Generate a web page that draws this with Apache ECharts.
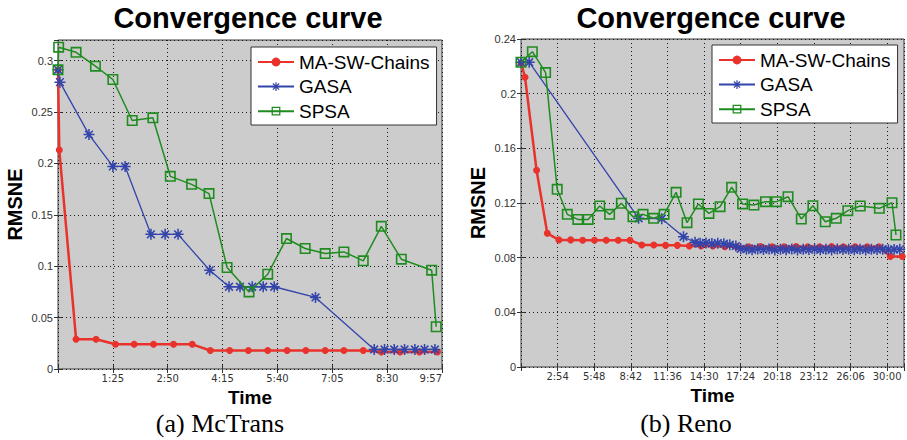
<!DOCTYPE html>
<html>
<head>
<meta charset="utf-8">
<script src="https://cdn.jsdelivr.net/npm/echarts@6/dist/echarts.min.js"></script>
<style>
html,body{margin:0;padding:0;background:#ffffff;}
#chart{width:907px;height:440px;}
</style>
</head>
<body>
<div id="chart"></div>
<script>
// ---------------- DATA (time in seconds, RMSNE) ----------------
// (a) McTrans
const mcXLabels = ['1:25', '2:50', '4:15', '5:40', '7:05', '8:30', '9:57'];
const mcMaTime  = [0, 2, 28, 59, 89, 118, 148, 179, 208, 236, 266, 295, 325, 355, 384, 414, 443, 473, 501, 530, 560, 588];
const mcMaRmsne = [0.291, 0.213, 0.029, 0.029, 0.024, 0.024, 0.024, 0.024, 0.024, 0.018, 0.018, 0.018, 0.018, 0.018, 0.018, 0.018, 0.018, 0.018, 0.0165, 0.0165, 0.0165, 0.0165];
const mcGaTime  = [0, 3, 48, 85, 104, 144, 166, 186, 235, 265, 282, 301, 318, 335, 399, 490, 506, 521, 537, 553, 568, 584];
const mcGaRmsne = [0.291, 0.279, 0.228, 0.197, 0.197, 0.131, 0.131, 0.131, 0.096, 0.080, 0.080, 0.080, 0.080, 0.080, 0.0696, 0.019, 0.019, 0.019, 0.019, 0.019, 0.019, 0.019];
const mcSpTime  = [0, 1, 28, 58, 85, 115, 147, 174, 207, 234, 262, 296, 325, 354, 383, 414, 443, 473, 501, 532, 579, 586];
const mcSpRmsne = [0.291, 0.313, 0.308, 0.2945, 0.2816, 0.2417, 0.2443, 0.1874, 0.1796, 0.1706, 0.0987, 0.075, 0.0922, 0.1269, 0.1172, 0.1123, 0.1139, 0.1052, 0.1388, 0.1068, 0.0961, 0.0411];

// (b) Reno
const renoXLabels = ['2:54', '5:48', '8:42', '11:36', '14:30', '17:24', '20:18', '23:12', '26:06', '30:00'];
const renoMaTime  = [0, 19, 74, 125, 180, 236, 293, 349, 405, 462, 518, 574, 631, 687, 743, 800, 856, 912, 969, 1025, 1081, 1138, 1194, 1250, 1307, 1363, 1419, 1476, 1532, 1588, 1645, 1701, 1755, 1812];
const renoMaRmsne = [0.2225, 0.212, 0.144, 0.0978, 0.093, 0.093, 0.0928, 0.0928, 0.0928, 0.0928, 0.0928, 0.0893, 0.0893, 0.089, 0.089, 0.0885, 0.0885, 0.0885, 0.088, 0.088, 0.088, 0.0882, 0.088, 0.088, 0.0882, 0.088, 0.088, 0.0882, 0.088, 0.088, 0.088, 0.088, 0.0808, 0.0808];
const renoGaTime  = [0, 39, 559, 669, 772, 827, 851, 879, 907, 935, 964, 992, 1021, 1044, 1071, 1098, 1125, 1152, 1179, 1206, 1233, 1260, 1287, 1314, 1341, 1368, 1395, 1422, 1449, 1476, 1503, 1530, 1557, 1584, 1611, 1638, 1665, 1692, 1719, 1746, 1773, 1800];
const renoGaRmsne = [0.223, 0.223, 0.1088, 0.1085, 0.0953, 0.0912, 0.0905, 0.0908, 0.0903, 0.0906, 0.0902, 0.0895, 0.0885, 0.0865, 0.0862, 0.0858, 0.0864, 0.0859, 0.0863, 0.0857, 0.0862, 0.0858, 0.0864, 0.0857, 0.0861, 0.0859, 0.0863, 0.0858, 0.0862, 0.0857, 0.0863, 0.0859, 0.0861, 0.0858, 0.0862, 0.0857, 0.0861, 0.0859, 0.0862, 0.0858, 0.086, 0.0861];
const renoSpTime  = [0, 54, 117, 172, 220, 270, 319, 374, 421, 477, 532, 580, 630, 680, 737, 789, 843, 893, 946, 1001, 1053, 1107, 1162, 1214, 1269, 1332, 1387, 1446, 1498, 1553, 1612, 1703, 1763, 1782];
const renoSpRmsne = [0.223, 0.2307, 0.2154, 0.130, 0.1117, 0.108, 0.108, 0.1178, 0.1117, 0.1198, 0.110, 0.1117, 0.1088, 0.1117, 0.1278, 0.1056, 0.1193, 0.1124, 0.1173, 0.1315, 0.1193, 0.1185, 0.121, 0.121, 0.1246, 0.1083, 0.118, 0.1063, 0.1088, 0.1144, 0.1178, 0.1161, 0.1202, 0.0966];

const seriesNames = ['MA-SW-Chains', 'GASA', 'SPSA'];

// ---------------- STYLE ----------------
const RED = '#e8322b', BLUE = '#3344aa', GREEN = '#1e8c1e';
const SANS = 'Liberation Sans';
const STAR = 'path://M0,4.3H10V5.7H0Z M4.3,0H5.7V10H4.3Z M1.995,1.005L8.995,8.005L8.005,8.995L1.005,1.995Z M8.995,1.995L1.995,8.995L1.005,8.005L8.005,1.005Z';
const SQUARE = 'path://M0,0H10V10H0Z M1.45,1.45V8.55H8.55V1.45Z';

function zip(t, v) { return t.map((x, i) => [x, v[i]]); }

const mcStep = 85, mcMax = 595;
const renoStep = 174, renoMax = 1820;

function labelFrom(labels, step) {
  return function (val) {
    const k = Math.round(val / step);
    if (Math.abs(val - k * step) > 1e-6 || k < 1 || k > labels.length) return '';
    return labels[k - 1];
  };
}

const tickStyle = { show: true, inside: true, length: 4, lineStyle: { color: '#333', width: 1 } };
const splitStyle = { show: true, lineStyle: { color: '#1a1a1a', width: 1, type: [1, 3] } };
const nameStyle = { fontFamily: SANS, fontSize: 19, fontWeight: 'bold', color: '#000' };

function gridDef(l, t, w, h) {
  return { left: l, top: t, width: w, height: h, show: true, backgroundColor: '#cccccc',
    borderColor: '#3a3a3a', borderWidth: 1, containLabel: false, outerBoundsMode: 'none' };
}

function xMain(gi, max, step, labels, alignMax) {
  return { gridIndex: gi, type: 'value', min: 0, max: max, interval: step, position: 'bottom',
    name: 'Time', nameLocation: 'middle', nameGap: 19, nameTextStyle: nameStyle,
    axisLine: { show: false }, axisTick: tickStyle,
    axisLabel: { show: true, margin: 4, fontFamily: 'DejaVu Sans', fontSize: 10, color: '#333',
      formatter: labelFrom(labels, step), alignMaxLabel: alignMax, showMinLabel: true, showMaxLabel: true },
    splitLine: splitStyle };
}
function xTop(gi, max, step) {
  return { gridIndex: gi, type: 'value', min: 0, max: max, interval: step, position: 'top',
    axisLine: { show: false }, axisTick: tickStyle, axisLabel: { show: false }, splitLine: { show: false } };
}
function yMain(gi, max, step, showMax) {
  return { gridIndex: gi, type: 'value', min: 0, max: max, interval: step, position: 'left',
    name: 'RMSNE', nameLocation: 'middle', nameRotate: 90, nameGap: 33, nameTextStyle: Object.assign({}, nameStyle, { fontSize: 20 }),
    axisLine: { show: false }, axisTick: tickStyle,
    axisLabel: { show: true, margin: 5, fontFamily: SANS, fontSize: 11, color: '#333', showMaxLabel: showMax },
    splitLine: splitStyle };
}
function yRight(gi, max, step) {
  return { gridIndex: gi, type: 'value', min: 0, max: max, interval: step, position: 'right',
    axisLine: { show: false }, axisTick: tickStyle, axisLabel: { show: false }, splitLine: { show: false } };
}

function mk(name, xi, yi, t, v) {
  const base = { name: name, type: 'line', xAxisIndex: xi, yAxisIndex: yi, data: zip(t, v),
    clip: false, emphasis: { disabled: true }, animation: false };
  if (name === 'MA-SW-Chains') {
    return Object.assign(base, { symbol: 'circle', symbolSize: 7, itemStyle: { color: RED }, lineStyle: { color: RED, width: 2.5 }, z: 2 });
  } else if (name === 'GASA') {
    return Object.assign(base, { symbol: STAR, symbolSize: 11, itemStyle: { color: BLUE }, lineStyle: { color: BLUE, width: 1.3 }, z: 3 });
  }
  return Object.assign(base, { symbol: SQUARE, symbolSize: 11, itemStyle: { color: GREEN }, lineStyle: { color: GREEN, width: 1.5 }, z: 4 });
}

function legendDef(l, t) {
  return { data: seriesNames, orient: 'vertical', left: l, top: t, itemWidth: 36, itemHeight: 11, itemGap: 5.6,
    padding: [5.5, 7, 4.3, 6], backgroundColor: '#ffffff', borderColor: '#333', borderWidth: 1, borderRadius: 0,
    selectedMode: false, textStyle: { fontFamily: SANS, fontSize: 19, color: '#000', lineHeight: 19 } };
}

const titleStyle = { fontFamily: SANS, fontSize: 29, fontWeight: 'bold', color: '#000' };
const capStyle = { fontFamily: 'Liberation Serif', fontSize: 26, fontWeight: 'normal', color: '#000' };

const option = {
  animation: false,
  backgroundColor: '#ffffff',
  title: [
    { text: 'Convergence curve', left: 248, top: 3, textAlign: 'center', padding: 0, textStyle: titleStyle },
    { text: 'Convergence curve', left: 711, top: 3, textAlign: 'center', padding: 0, textStyle: titleStyle },
    { text: '(a) McTrans', left: 220, top: 410, textAlign: 'center', padding: 0, textStyle: capStyle },
    { text: '(b) Reno', left: 686, top: 410, textAlign: 'center', padding: 0, textStyle: capStyle }
  ],
  legend: [legendDef(251, 47), legendDef(712, 45)],
  grid: [gridDef(58, 40, 384, 329), gridDef(521, 39, 383, 328)],
  xAxis: [
    xMain(0, mcMax, mcStep, mcXLabels, 'right'),
    xTop(0, mcMax, mcStep),
    xMain(1, renoMax, renoStep, renoXLabels, 'center'),
    xTop(1, renoMax, renoStep)
  ],
  yAxis: [
    yMain(0, 0.32, 0.05, false),
    yRight(0, 0.32, 0.05),
    yMain(1, 0.24, 0.04, true),
    yRight(1, 0.24, 0.04)
  ],
  series: [
    mk('MA-SW-Chains', 0, 0, mcMaTime, mcMaRmsne),
    mk('GASA', 0, 0, mcGaTime, mcGaRmsne),
    mk('SPSA', 0, 0, mcSpTime, mcSpRmsne),
    mk('MA-SW-Chains', 2, 2, renoMaTime, renoMaRmsne),
    mk('GASA', 2, 2, renoGaTime, renoGaRmsne),
    mk('SPSA', 2, 2, renoSpTime, renoSpRmsne)
  ]
};

const chart = echarts.init(document.getElementById('chart'), null, { renderer: 'svg', width: 907, height: 440 });
chart.setOption(option);
</script>
</body>
</html>
